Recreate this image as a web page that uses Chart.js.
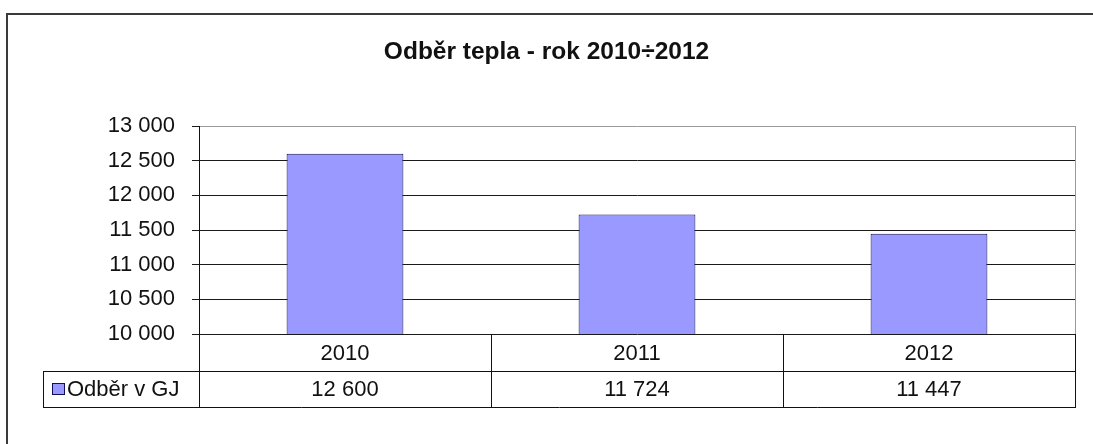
<!DOCTYPE html>
<html>
<head>
<meta charset="utf-8">
<script src="https://cdn.jsdelivr.net/npm/chart.js@4/dist/chart.umd.min.js"></script>
<style>
  body { margin: 0; background: #fff; }
  canvas { display: block; }
</style>
</head>
<body>
<canvas id="chart" width="1093" height="444"></canvas>
<script>
const years = ['2010', '2011', '2012'];
const heatGJ = [12600, 11724, 11447];
const seriesName = 'Odběr v GJ';
const chartTitle = 'Odběr tepla - rok 2010÷2012';

const FONT = 'Arial, "Liberation Sans", sans-serif';
const barFill = '#9999ff';
const barEdge = '#10105a';

// 12600 -> "12 600"
const fmt = v => String(v).replace(/\B(?=(\d{3})+(?!\d))/g, ' ');

// title, frame, plot border and the data table under the bars
const tablePlugin = {
    id: 'dataTable',
    afterDraw(chart) {
        const ctx = chart.ctx;
        const area = chart.chartArea;
        const x = chart.scales.x;
        const row1 = area.bottom + 37;
        const row2 = row1 + 36;
        const legendLeft = 43;
        const colW = (area.right - area.left) / years.length;

        ctx.save();
        // title, centred on the whole canvas
        ctx.fillStyle = '#111';
        ctx.font = 'bold 24.5px ' + FONT;
        ctx.textAlign = 'center';
        ctx.textBaseline = 'alphabetic';
        ctx.fillText(chartTitle, chart.width / 2, 59);

        // outer frame (open to the right and bottom)
        ctx.strokeStyle = '#3a3a3a';
        ctx.lineWidth = 2;
        ctx.beginPath();
        ctx.moveTo(7, 444);
        ctx.lineTo(7, 14);
        ctx.lineTo(1093, 14);
        ctx.stroke();

        // right border of the plot area
        ctx.lineWidth = 1;
        ctx.strokeStyle = '#9a9a9a';
        ctx.beginPath();
        ctx.moveTo(Math.round(area.right) + 0.5, area.top);
        ctx.lineTo(Math.round(area.right) + 0.5, area.bottom);
        ctx.stroke();

        // table grid
        ctx.strokeStyle = '#111';
        ctx.beginPath();
        ctx.moveTo(legendLeft, row1 + 0.5);
        ctx.lineTo(area.right, row1 + 0.5);
        ctx.moveTo(legendLeft, row2 + 0.5);
        ctx.lineTo(area.right + 1, row2 + 0.5);
        ctx.moveTo(legendLeft + 0.5, row1);
        ctx.lineTo(legendLeft + 0.5, row2);
        for (let i = 0; i <= years.length; i++) {
            const cx = Math.round(area.left + colW * i) + 0.5;
            ctx.moveTo(cx, i === 0 ? area.top : area.bottom);
            ctx.lineTo(cx, row2);
        }
        ctx.stroke();

        // category and value rows
        ctx.fillStyle = '#111';
        ctx.font = '22px ' + FONT;
        ctx.textBaseline = 'middle';
        years.forEach((year, i) => {
            const cx = x.getPixelForValue(i);
            ctx.fillText(year, cx, (area.bottom + row1) / 2 + 1);
            ctx.fillText(fmt(heatGJ[i]), cx, (row1 + row2) / 2 + 1);
        });

        // legend key
        ctx.fillStyle = barFill;
        ctx.fillRect(52, 383, 12, 11);
        ctx.strokeStyle = barEdge;
        ctx.strokeRect(52.5, 383.5, 12, 11);
        ctx.fillStyle = '#111';
        ctx.textAlign = 'left';
        ctx.fillText(seriesName, 67, (row1 + row2) / 2 + 1);
        ctx.restore();
    }
};

new Chart(document.getElementById('chart'), {
    type: 'bar',
    data: {
        labels: years,
        datasets: [{
            label: seriesName,
            data: heatGJ,
            backgroundColor: barFill,
            borderColor: barEdge,
            borderWidth: 1,
            barPercentage: 0.4,
            categoryPercentage: 1
        }]
    },
    options: {
        responsive: false,
        animation: false,
        layout: { padding: { left: 0, right: 18, top: 126, bottom: 110 } },
        plugins: {
            legend: { display: false },
            tooltip: { enabled: false },
            title: { display: false }
        },
        scales: {
            x: { display: false },
            y: {
                min: 10000,
                max: 13000,
                afterFit(scale) { scale.width = 199; },
                ticks: {
                    stepSize: 500,
                    padding: 17,
                    color: '#111',
                    font: { family: FONT, size: 22 },
                    callback: v => fmt(v)
                },
                grid: {
                    tickLength: 7,
                    color: ctx => ctx.tick && ctx.tick.value === 13000 ? '#9a9a9a' : '#1a1a1a',
                    tickColor: '#1a1a1a'
                },
                border: { color: '#111' }
            }
        }
    },
    plugins: [tablePlugin]
});
</script>
</body>
</html>
